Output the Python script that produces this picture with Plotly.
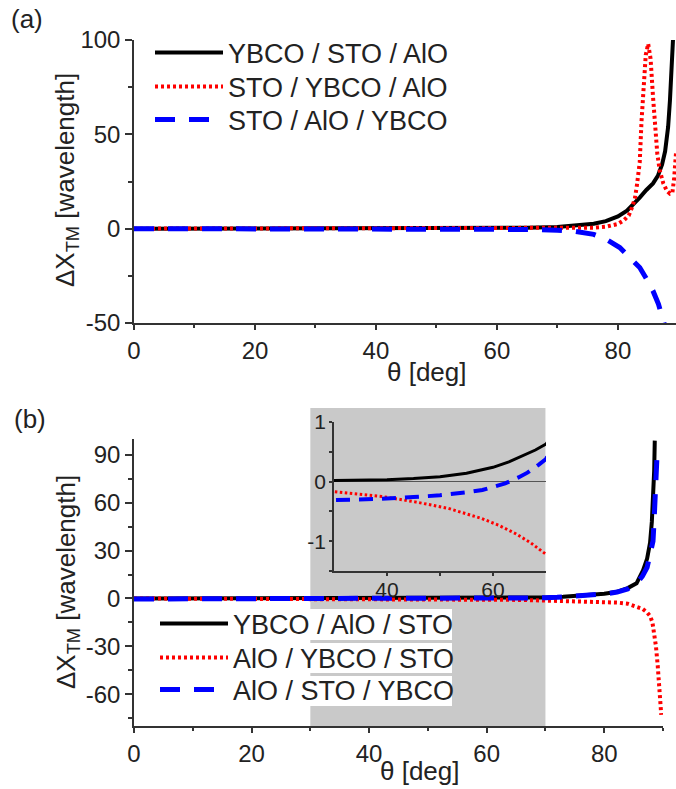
import plotly.graph_objects as go

# ---------------- data: panel (a) ----------------
a_black_theta = [0, 10, 20, 30, 40, 50, 60, 65, 70, 74, 76, 78, 80, 81.5, 82.5, 83.6, 84.7, 85.8, 86.6, 87.3, 87.8, 88.3, 88.6, 88.9, 89.1]
a_black_val = [0.0, 0.0, 0.0, 0.0, 0.05, 0.1, 0.3, 0.5, 0.9, 1.8, 2.6, 4.0, 6.5, 9.5, 12.5, 16.5, 20.5, 24.0, 28.0, 34.0, 41.0, 54.0, 68.0, 85.0, 100.0]

a_red_theta = [0, 10, 20, 30, 40, 50, 60, 70, 72, 74, 76, 78, 80, 81, 81.8, 82.3, 82.8, 83.1, 83.6, 83.9, 84.2, 84.6, 85.0, 85.4, 85.8, 86.1, 86.5, 86.9, 87.5, 88.1, 88.6, 89.0, 89.3, 89.6]
a_red_val = [0, 0, 0, 0, 0, 0, 0, 0, 0, 0.2, 0.5, 1.0, 2.5, 4.5, 7.0, 11.0, 16.0, 22.0, 35.0, 57.0, 75.0, 92.0, 98.0, 90.0, 70.0, 57.0, 40.0, 31.0, 24.0, 20.0, 18.5, 19.0, 27.0, 40.0]

a_blue_theta = [0, 10, 20, 30, 40, 50, 60, 65, 70, 73, 76, 78, 80.3, 82, 83.6, 84.8, 85.8, 86.7, 87.4, 87.7]
a_blue_val = [0, 0, 0, 0, 0, -0.1, -0.2, -0.4, -0.8, -1.5, -3.0, -5.5, -10.0, -15.0, -20.6, -27.0, -33.0, -40.0, -47.0, -51.0]

a_names = ["YBCO / STO / AlO", "STO / YBCO / AlO", "STO / AlO / YBCO"]

# ---------------- data: panel (b) ----------------
b_black_theta = [0, 10, 20, 30, 35, 40, 45, 50, 55, 60, 63, 66, 68, 70, 73, 76, 78, 80, 82, 84, 85.5, 86.6, 87.3, 87.8, 88.1, 88.3, 88.5, 88.6]
b_black_val = [0.0, 0.0, 0.01, 0.02, 0.02, 0.03, 0.05, 0.08, 0.14, 0.24, 0.33, 0.45, 0.53, 0.63, 1.0, 1.6, 2.2, 3.0, 4.0, 6.5, 9.5, 17.6, 25.0, 35.0, 48.0, 62.0, 80.0, 99.0]

b_red_theta = [0, 10, 20, 30, 35, 39, 45.3, 51.6, 57.9, 61, 64.2, 67, 70, 73, 76, 79, 82.2, 84, 85, 86.5, 87.3, 87.8, 88.2, 88.5, 88.8, 89.1, 89.4, 89.7]
b_red_val = [-0.05, -0.08, -0.12, -0.17, -0.21, -0.25, -0.34, -0.45, -0.62, -0.73, -0.87, -1.02, -1.22, -1.4, -1.7, -2.1, -2.6, -3.3, -4.4, -6.5, -8.8, -11.0, -15.0, -21.0, -30.0, -42.0, -58.0, -73.0]

b_blue_theta = [0, 10, 20, 30, 35, 39, 45, 50, 55, 58, 60, 62.3, 64.8, 66.5, 68.6, 70, 72, 75, 78, 80, 82.2, 84, 85.6, 86.5, 87.3, 87.8, 88.3, 88.5, 88.7, 89.0]
b_blue_val = [-0.33, -0.33, -0.32, -0.31, -0.30, -0.29, -0.26, -0.23, -0.18, -0.14, -0.09, -0.03, 0.07, 0.15, 0.28, 0.38, 0.7, 1.3, 2.1, 2.8, 4.0, 6.0, 10.0, 14.0, 19.5, 27.0, 36.0, 50.0, 68.0, 91.0]

b_names = ["YBCO / AlO / STO", "AlO / YBCO / STO", "AlO / STO / YBCO"]

# tick labels
a_x_ticks = [0, 20, 40, 60, 80]
a_y_ticks = [-50, 0, 50, 100]
b_x_ticks = [0, 20, 40, 60, 80]
b_y_ticks = [-60, -30, 0, 30, 60, 90]
in_x_ticks = [40, 60]
in_y_ticks = [-1, 0, 1]
shade_range = [30, 70]

FONT = "Liberation Sans, Arial, sans-serif"
AX = "#333333"

W, H = 676, 789
def px(x):
    return x / W
def py(y):
    return 1 - y / H

def lab(v):
    return str(v)

fig = go.Figure()

styles = [
    dict(color="black", width=4, dash="solid"),
    dict(color="#ff0000", width=4, dash="3px,3px"),
    dict(color="#0000ff", width=5, dash="20px,14px"),
]

a_legends = ["legend", "legend2", "legend3"]
b_legends = ["legend4", "legend5", "legend6"]

for th, v, nm, st, lg in zip([a_black_theta, a_red_theta, a_blue_theta],
                             [a_black_val, a_red_val, a_blue_val], a_names, styles, a_legends):
    fig.add_trace(go.Scatter(x=th, y=v, mode="lines", name=nm, line=st,
                             xaxis="x", yaxis="y", legend=lg))

for th, v, nm, st, lg in zip([b_black_theta, b_red_theta, b_blue_theta],
                             [b_black_val, b_red_val, b_blue_val], b_names, styles, b_legends):
    fig.add_trace(go.Scatter(x=th, y=v, mode="lines", name=nm, line=st,
                             xaxis="x2", yaxis="y2", legend=lg))

inset_styles = [
    dict(color="black", width=3, dash="solid"),
    dict(color="#ff0000", width=3, dash="2.5px,2.5px"),
    dict(color="#0000ff", width=4, dash="14px,9px"),
]
for th, v, st in zip([b_black_theta, b_red_theta, b_blue_theta],
                     [b_black_val, b_red_val, b_blue_val], inset_styles):
    fig.add_trace(go.Scatter(x=th, y=v, mode="lines", line=st, showlegend=False,
                             xaxis="x3", yaxis="y3"))

tickfont = dict(family=FONT, size=24, color="#222222")
insetfont = dict(family=FONT, size=21, color="#222222")

def axis(**kw):
    d = dict(showline=True, linecolor=AX, linewidth=1.5, ticks="outside", ticklen=7,
             tickwidth=1.5, tickcolor=AX, showgrid=False, zeroline=False,
             tickfont=tickfont, fixedrange=True, automargin=False)
    d.update(kw)
    return d

def minor(vals, ln=4):
    return dict(ticks="outside", ticklen=ln, tickwidth=1.5, tickcolor=AX, tickvals=vals, showgrid=False)

leg_font = dict(family=FONT, size=27, color="#222222")

def leg(x, y):
    return dict(x=px(x), y=py(y), xanchor="left", yanchor="middle", font=leg_font,
                bgcolor="rgba(0,0,0,0)", itemwidth=68, tracegroupgap=0, borderwidth=0)

fig.update_layout(
    width=W, height=H,
    margin=dict(l=0, r=0, t=0, b=0, autoexpand=False),
    paper_bgcolor="white", plot_bgcolor="rgba(0,0,0,0)",
    font=dict(family=FONT, color="#222222"),
    xaxis=axis(domain=[px(134), 1.0], range=[0, 89.6], anchor="y", ticklen=5,
               tickmode="array", tickvals=a_x_ticks, ticktext=[lab(t) for t in a_x_ticks],
               minor=minor([10, 30, 50, 70], 3)),
    yaxis=axis(domain=[py(323), py(40)], range=[-50, 100], anchor="x",
               tickmode="array", tickvals=a_y_ticks, ticktext=[lab(t) for t in a_y_ticks],
               minor=minor([-25, 25, 75])),
    xaxis2=axis(domain=[px(134), px(663)], range=[0, 90], anchor="y2", ticklen=5,
                tickmode="array", tickvals=b_x_ticks, ticktext=[lab(t) for t in b_x_ticks],
                minor=minor([10, 30, 50, 70, 90], 3)),
    yaxis2=axis(domain=[py(726), py(439)], range=[-80, 100], anchor="x2",
                tickmode="array", tickvals=b_y_ticks, ticktext=[lab(t) for t in b_y_ticks],
                minor=minor([-75, -45, -15, 15, 45, 75])),
    xaxis3=axis(domain=[px(334), px(546)], range=[30, 70], anchor="y3", ticklen=3,
                tickfont=insetfont, ticklabelstandoff=-4,
                tickmode="array", tickvals=in_x_ticks, ticktext=[lab(t) for t in in_x_ticks],
                minor=minor([50], 3)),
    yaxis3=axis(domain=[py(571), py(422)], range=[-1.5, 1], anchor="x3", ticklen=3,
                tickfont=insetfont, ticklabelstandoff=-1,
                tickmode="array", tickvals=in_y_ticks, ticktext=[lab(t) for t in in_y_ticks],
                zeroline=True, zerolinecolor="#555555", zerolinewidth=1,
                minor=minor([-1.5, -0.5, 0.5], 3)),
    legend=leg(150, 53),
    legend2=leg(150, 87),
    legend3=leg(150, 120),
    legend4=leg(155, 624),
    legend5=leg(155, 658),
    legend6=leg(155, 690),
    showlegend=True,
)

# grey highlighted theta range behind panel (b) and its inset
fig.add_shape(type="rect", xref="x2", yref="paper", x0=shade_range[0], x1=shade_range[1],
              y0=py(726), y1=py(408), fillcolor="#c9c9c9", line=dict(width=0), layer="below")
# white boxes behind the legend texts of panel (b)
for top, bot in [(609, 640), (643, 673), (676, 706)]:
    fig.add_shape(type="rect", xref="paper", yref="paper", x0=px(290), x1=px(452),
                  y0=py(bot), y1=py(top), fillcolor="white", line=dict(width=0), layer="below")

ann_font = dict(family=FONT, size=26, color="#222222")

def ann(text, x, y, angle=0, xa="center", ya="middle"):
    fig.add_annotation(text=text, x=px(x), y=py(y), xref="paper", yref="paper",
                       xanchor=xa, yanchor=ya, textangle=angle, showarrow=False, font=ann_font)

ann("(a)", 9, 19, xa="left")
ann("(b)", 12, 419, xa="left")
ytitle = "ΔX<sub>TM</sub> [wavelength]"
ann(ytitle, 67, 180, angle=-90)
ann(ytitle, 67, 582, angle=-90)
ann("θ [deg]", 427, 372)
ann("θ [deg]", 420, 771)

fig.write_html("out.html")
